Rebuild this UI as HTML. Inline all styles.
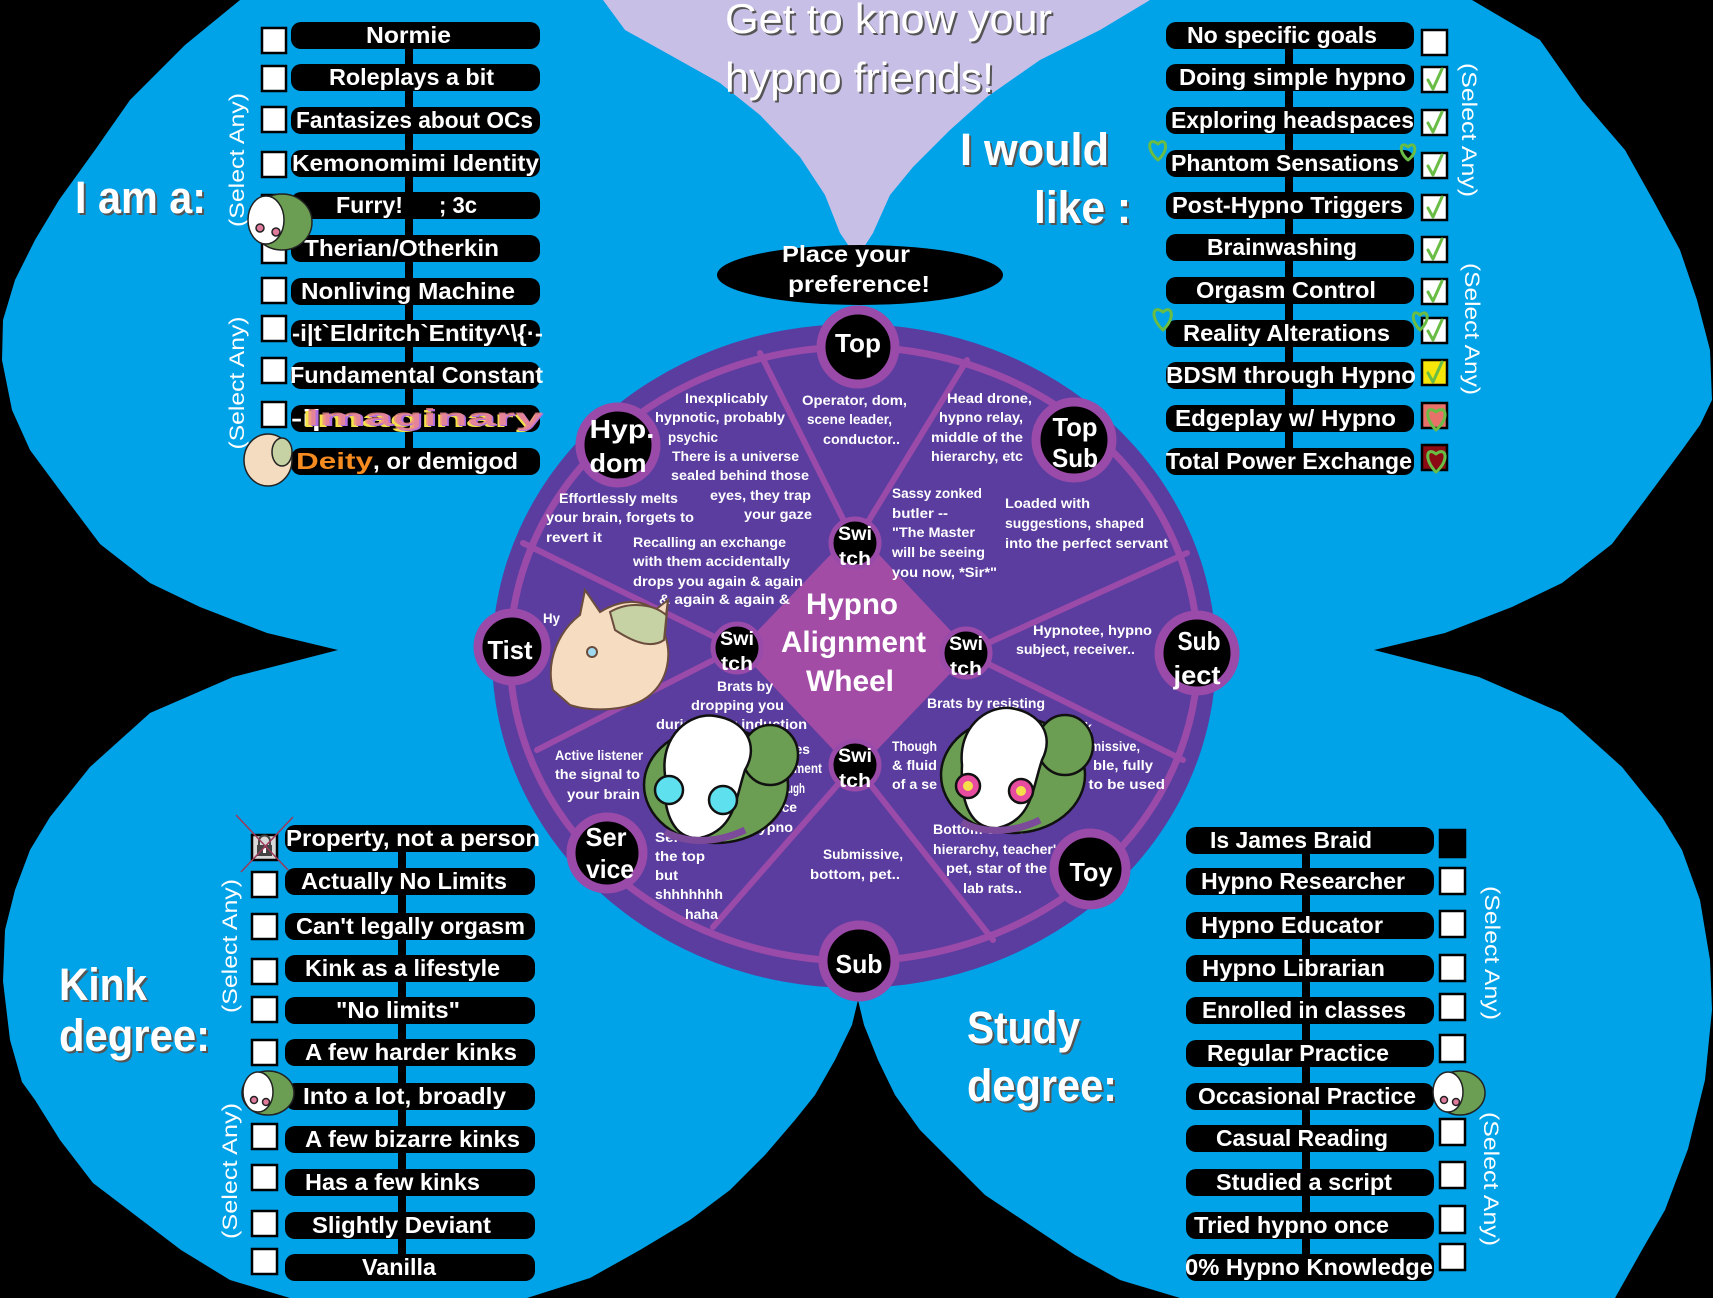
<!DOCTYPE html>
<html><head><meta charset="utf-8"><style>
html,body{margin:0;padding:0;background:#000;}
svg{display:block}
text{font-family:"Liberation Sans",Arial,sans-serif;}
.li{font-size:23px;font-weight:bold;fill:#fff;}
.wt{font-size:14px;font-weight:bold;fill:#fff;}
.rl{font-size:26px;font-weight:bold;fill:#fff;text-anchor:middle;}
.sw{font-size:19px;font-weight:bold;fill:#fff;text-anchor:middle;}
.sa{font-size:21px;fill:#fff;}
.big{font-size:45px;font-weight:bold;}
</style></head><body>
<svg width="1713" height="1298" viewBox="0 0 1713 1298" xmlns="http://www.w3.org/2000/svg">
<rect width="1713" height="1298" fill="#000"/>
<!-- blue region -->
<polygon fill="#00a2e8" points="240,0 1472,0 1540,40 1582,100 1625,150 1653,200 1680,250 1697,300 1710,350 1712,400 1700,425 1682,450 1645,500 1612,544 1562,583 1512,607 1445,633 1374,650 1479,677 1562,713 1622,767 1662,817 1682,850 1700,900 1710,960 1712,1010 1705,1080 1688,1149 1665,1210 1642,1250 1615,1298 1180,1298 1120,1280 1075,1255 1030,1225 985,1195 950,1160 920,1130 895,1095 878,1060 864,1025 858,1000 852,1025 835,1060 815,1095 795,1120 765,1155 730,1190 690,1220 640,1250 590,1278 527,1298 290,1298 230,1280 181,1250 135,1215 93,1183 60,1140 35,1100 22,1082 10,1040 3,981 5,930 15,890 30,850 50,817 90,767 150,713 233,677 338,650 267,633 200,607 150,583 100,544 67,500 30,450 12,410 2,360 3,320 15,280 35,240 59,200 95,150 130,100 185,45"/>
<!-- lavender funnel -->
<polygon fill="#c8bfe7" points="603,0 625,30 670,55 720,83 760,115 800,157 825,195 840,233 857,258 873,233 890,195 913,167 950,130 987,97 1040,60 1100,30 1150,0"/>

<!-- Title -->
<g font-size="42" font-family="Liberation Sans, sans-serif">
<text x="727" y="35" fill="#555" textLength="327" lengthAdjust="spacingAndGlyphs">Get to know your</text>
<text x="725" y="33" fill="#fff" textLength="327" lengthAdjust="spacingAndGlyphs">Get to know your</text>
<text x="727" y="94" fill="#555" textLength="269" lengthAdjust="spacingAndGlyphs">hypno friends!</text>
<text x="725" y="92" fill="#fff" textLength="269" lengthAdjust="spacingAndGlyphs">hypno friends!</text>
</g>

<!-- Section titles -->
<g class="big">
<text x="77" y="215" fill="#555" textLength="131" lengthAdjust="spacingAndGlyphs" class="big">I am a:</text>
<text x="75" y="213" fill="#fff" textLength="131" lengthAdjust="spacingAndGlyphs" class="big">I am a:</text>
<text x="962" y="167" fill="#555" textLength="149" lengthAdjust="spacingAndGlyphs" class="big">I would</text>
<text x="960" y="165" fill="#fff" textLength="149" lengthAdjust="spacingAndGlyphs" class="big">I would</text>
<text x="1036" y="225" fill="#555" textLength="97" lengthAdjust="spacingAndGlyphs" class="big">like :</text>
<text x="1034" y="223" fill="#fff" textLength="97" lengthAdjust="spacingAndGlyphs" class="big">like :</text>
<text x="61" y="1002" fill="#555" textLength="88" lengthAdjust="spacingAndGlyphs" class="big">Kink</text>
<text x="59" y="1000" fill="#fff" textLength="88" lengthAdjust="spacingAndGlyphs" class="big">Kink</text>
<text x="61" y="1053" fill="#555" textLength="151" lengthAdjust="spacingAndGlyphs" class="big">degree:</text>
<text x="59" y="1051" fill="#fff" textLength="151" lengthAdjust="spacingAndGlyphs" class="big">degree:</text>
<text x="969" y="1045" fill="#555" textLength="113" lengthAdjust="spacingAndGlyphs" class="big">Study</text>
<text x="967" y="1043" fill="#fff" textLength="113" lengthAdjust="spacingAndGlyphs" class="big">Study</text>
<text x="969" y="1103" fill="#555" textLength="150" lengthAdjust="spacingAndGlyphs" class="big">degree:</text>
<text x="967" y="1101" fill="#fff" textLength="150" lengthAdjust="spacingAndGlyphs" class="big">degree:</text>
</g>

<!-- (Select Any) labels -->
<g class="sa">
<text class="sa" transform="translate(244,160) rotate(-90)" text-anchor="middle" textLength="134" lengthAdjust="spacingAndGlyphs">(Select Any)</text>
<text class="sa" transform="translate(244,383) rotate(-90)" text-anchor="middle" textLength="133" lengthAdjust="spacingAndGlyphs">(Select Any)</text>
<text class="sa" transform="translate(1462,130) rotate(90)" text-anchor="middle" textLength="134" lengthAdjust="spacingAndGlyphs">(Select Any)</text>
<text class="sa" transform="translate(1465,329) rotate(90)" text-anchor="middle" textLength="132" lengthAdjust="spacingAndGlyphs">(Select Any)</text>
<text class="sa" transform="translate(237,946) rotate(-90)" text-anchor="middle" textLength="134" lengthAdjust="spacingAndGlyphs">(Select Any)</text>
<text class="sa" transform="translate(237,1171) rotate(-90)" text-anchor="middle" textLength="136" lengthAdjust="spacingAndGlyphs">(Select Any)</text>
<text class="sa" transform="translate(1485,953) rotate(90)" text-anchor="middle" textLength="134" lengthAdjust="spacingAndGlyphs">(Select Any)</text>
<text class="sa" transform="translate(1484,1179) rotate(90)" text-anchor="middle" textLength="134" lengthAdjust="spacingAndGlyphs">(Select Any)</text>
</g>

<!-- ============ LEFT TOP LIST ============ -->
<rect x="405" y="35" width="8" height="425" fill="#000"/>
<g fill="#000">
<rect x="291" y="22" width="249" height="27" rx="10"/>
<rect x="291" y="64" width="249" height="27" rx="10"/>
<rect x="291" y="107" width="249" height="27" rx="10"/>
<rect x="291" y="150" width="249" height="27" rx="10"/>
<rect x="291" y="192" width="249" height="27" rx="10"/>
<rect x="291" y="235" width="249" height="27" rx="10"/>
<rect x="291" y="278" width="249" height="27" rx="10"/>
<rect x="291" y="320" width="249" height="27" rx="10"/>
<rect x="291" y="362" width="249" height="27" rx="10"/>
<rect x="291" y="405" width="249" height="27" rx="10"/>
<rect x="291" y="448" width="249" height="27" rx="10"/>
</g>
<g class="li">
<text class="li" x="366" y="43" textLength="85" lengthAdjust="spacingAndGlyphs">Normie</text>
<text class="li" x="329" y="85" textLength="165" lengthAdjust="spacingAndGlyphs">Roleplays a bit</text>
<text class="li" x="296" y="128" textLength="237" lengthAdjust="spacingAndGlyphs">Fantasizes about OCs</text>
<text class="li" x="292" y="171" textLength="247" lengthAdjust="spacingAndGlyphs">Kemonomimi Identity</text>
<text class="li" x="336" y="213" textLength="67" lengthAdjust="spacingAndGlyphs">Furry!</text>
<text class="li" x="439" y="213" textLength="38" lengthAdjust="spacingAndGlyphs">; 3c</text>
<text class="li" x="304" y="256" textLength="195" lengthAdjust="spacingAndGlyphs">Therian/Otherkin</text>
<text class="li" x="301" y="299" textLength="214" lengthAdjust="spacingAndGlyphs">Nonliving Machine</text>
<text class="li" x="292" y="341" textLength="251" lengthAdjust="spacingAndGlyphs">-i|t`Eldritch`Entity^\{·-</text>
<text class="li" x="290" y="383" textLength="253" lengthAdjust="spacingAndGlyphs">Fundamental Constant</text>
<text class="li" x="291" y="426" textLength="30" lengthAdjust="spacingAndGlyphs">-i|</text>
<text x="302" y="427" font-size="23" font-weight="bold" fill="#f3e24a" textLength="240" lengthAdjust="spacingAndGlyphs">Imaginary</text>
<text x="308" y="426" font-size="23" font-weight="bold" fill="#b26fe0" textLength="236" lengthAdjust="spacingAndGlyphs">Imaginary</text>
<text x="305" y="425" font-size="23" font-weight="bold" fill="#f08a8a" opacity="0.8" textLength="238" lengthAdjust="spacingAndGlyphs">Imaginary</text>
<text x="296" y="469" font-size="23" font-weight="bold" fill="#f68b1f" textLength="77" lengthAdjust="spacingAndGlyphs">Deity</text>
<text class="li" x="373" y="469" textLength="145" lengthAdjust="spacingAndGlyphs">, or demigod</text>
</g>
<g fill="#fff" stroke="#000" stroke-width="2.5">
<rect x="262" y="28" width="24" height="25"/>
<rect x="262" y="66" width="24" height="25"/>
<rect x="262" y="107" width="24" height="25"/>
<rect x="262" y="152" width="24" height="25"/>
<rect x="262" y="195" width="24" height="25"/>
<rect x="262" y="238" width="24" height="25"/>
<rect x="262" y="278" width="24" height="25"/>
<rect x="262" y="316" width="24" height="25"/>
<rect x="262" y="358" width="24" height="25"/>
<rect x="262" y="402" width="24" height="25"/>
</g>

<!-- ============ RIGHT TOP LIST ============ -->
<rect x="1285" y="35" width="8" height="425" fill="#000"/>
<g fill="#000">
<rect x="1166" y="22" width="248" height="27" rx="10"/>
<rect x="1166" y="64" width="248" height="27" rx="10"/>
<rect x="1166" y="107" width="248" height="27" rx="10"/>
<rect x="1166" y="150" width="248" height="27" rx="10"/>
<rect x="1166" y="192" width="248" height="27" rx="10"/>
<rect x="1166" y="234" width="248" height="27" rx="10"/>
<rect x="1166" y="277" width="248" height="27" rx="10"/>
<rect x="1166" y="320" width="248" height="27" rx="10"/>
<rect x="1166" y="362" width="248" height="27" rx="10"/>
<rect x="1166" y="405" width="248" height="27" rx="10"/>
<rect x="1166" y="448" width="248" height="27" rx="10"/>
</g>
<g>
<text class="li" x="1187" y="43" textLength="190" lengthAdjust="spacingAndGlyphs">No specific goals</text>
<text class="li" x="1179" y="85" textLength="227" lengthAdjust="spacingAndGlyphs">Doing simple hypno</text>
<text class="li" x="1171" y="128" textLength="243" lengthAdjust="spacingAndGlyphs">Exploring headspaces</text>
<text class="li" x="1171" y="171" textLength="228" lengthAdjust="spacingAndGlyphs">Phantom Sensations</text>
<text class="li" x="1172" y="213" textLength="231" lengthAdjust="spacingAndGlyphs">Post-Hypno Triggers</text>
<text class="li" x="1207" y="255" textLength="150" lengthAdjust="spacingAndGlyphs">Brainwashing</text>
<text class="li" x="1196" y="298" textLength="180" lengthAdjust="spacingAndGlyphs">Orgasm Control</text>
<text class="li" x="1183" y="341" textLength="207" lengthAdjust="spacingAndGlyphs">Reality Alterations</text>
<text class="li" x="1166" y="383" textLength="250" lengthAdjust="spacingAndGlyphs">BDSM through Hypno</text>
<text class="li" x="1175" y="426" textLength="221" lengthAdjust="spacingAndGlyphs">Edgeplay w/ Hypno</text>
<text class="li" x="1166" y="469" textLength="246" lengthAdjust="spacingAndGlyphs">Total Power Exchange</text>
</g>
<g stroke="#000" stroke-width="2.5">
<rect x="1422" y="30" width="25" height="25" fill="#fff"/>
<rect x="1422" y="67" width="25" height="25" fill="#fff"/>
<rect x="1422" y="110" width="25" height="25" fill="#fff"/>
<rect x="1422" y="153" width="25" height="25" fill="#fff"/>
<rect x="1422" y="195" width="25" height="25" fill="#fff"/>
<rect x="1422" y="237" width="25" height="25" fill="#fff"/>
<rect x="1422" y="279" width="25" height="25" fill="#fff"/>
<rect x="1422" y="318" width="25" height="25" fill="#fff"/>
<rect x="1422" y="360" width="25" height="25" fill="#f7e60a"/>
<rect x="1422" y="403" width="25" height="25" fill="#e8716a"/>
<rect x="1422" y="445" width="25" height="25" fill="#8b0a14"/>
</g>
<g fill="none" stroke="#69bd45" stroke-width="3" stroke-linecap="round" stroke-linejoin="round">
<path d="M1428,80 L1433,89 L1442,69"/>
<path d="M1428,123 L1433,132 L1442,112"/>
<path d="M1428,166 L1433,175 L1442,155"/>
<path d="M1428,208 L1433,217 L1442,197"/>
<path d="M1428,250 L1433,259 L1442,239"/>
<path d="M1428,292 L1433,301 L1442,281"/>
<path d="M1428,331 L1433,340 L1442,320"/>
<path d="M1428,373 L1433,382 L1442,362"/>
<path d="M1158,160 C1146,150 1148,136 1158,144 C1166,136 1170,150 1158,160 Z"/>
<path d="M1408,160 C1398,152 1400,140 1408,147 C1415,140 1419,152 1408,160 Z"/>
<path d="M1163,330 C1150,318 1152,304 1163,312 C1172,304 1176,318 1163,330 Z"/>
<path d="M1420,330 C1410,320 1412,308 1420,315 C1428,308 1431,320 1420,330 Z"/>
<path d="M1436,430 C1424,418 1426,404 1436,412 C1446,404 1450,418 1436,430 Z"/>
<path d="M1436,472 C1424,460 1426,446 1436,454 C1446,446 1450,460 1436,472 Z"/>
</g>

<!-- ============ BOTTOM LEFT LIST ============ -->
<rect x="398" y="838" width="8" height="430" fill="#000"/>
<g fill="#000">
<rect x="285" y="825" width="250" height="27" rx="10"/>
<rect x="285" y="868" width="250" height="27" rx="10"/>
<rect x="285" y="913" width="250" height="27" rx="10"/>
<rect x="285" y="955" width="250" height="27" rx="10"/>
<rect x="285" y="997" width="250" height="27" rx="10"/>
<rect x="285" y="1039" width="250" height="27" rx="10"/>
<rect x="285" y="1083" width="250" height="27" rx="10"/>
<rect x="285" y="1126" width="250" height="27" rx="10"/>
<rect x="285" y="1169" width="250" height="27" rx="10"/>
<rect x="285" y="1212" width="250" height="27" rx="10"/>
<rect x="285" y="1254" width="250" height="27" rx="10"/>
</g>
<g>
<text class="li" x="286" y="846" textLength="254" lengthAdjust="spacingAndGlyphs">Property, not a person</text>
<text class="li" x="301" y="889" textLength="206" lengthAdjust="spacingAndGlyphs">Actually No Limits</text>
<text class="li" x="296" y="934" textLength="229" lengthAdjust="spacingAndGlyphs">Can't legally orgasm</text>
<text class="li" x="305" y="976" textLength="195" lengthAdjust="spacingAndGlyphs">Kink as a lifestyle</text>
<text class="li" x="336" y="1018" textLength="124" lengthAdjust="spacingAndGlyphs">"No limits"</text>
<text class="li" x="305" y="1060" textLength="212" lengthAdjust="spacingAndGlyphs">A few harder kinks</text>
<text class="li" x="303" y="1104" textLength="203" lengthAdjust="spacingAndGlyphs">Into a lot, broadly</text>
<text class="li" x="305" y="1147" textLength="215" lengthAdjust="spacingAndGlyphs">A few bizarre kinks</text>
<text class="li" x="305" y="1190" textLength="175" lengthAdjust="spacingAndGlyphs">Has a few kinks</text>
<text class="li" x="312" y="1233" textLength="179" lengthAdjust="spacingAndGlyphs">Slightly Deviant</text>
<text class="li" x="362" y="1275" textLength="74" lengthAdjust="spacingAndGlyphs">Vanilla</text>
</g>
<g fill="#fff" stroke="#000" stroke-width="2.5">
<rect x="252" y="835" width="25" height="25" fill="#d8d8d8"/>
<rect x="252" y="872" width="25" height="25"/>
<rect x="252" y="914" width="25" height="25"/>
<rect x="252" y="959" width="25" height="25"/>
<rect x="252" y="997" width="25" height="25"/>
<rect x="252" y="1040" width="25" height="25"/>
<rect x="252" y="1124" width="25" height="25"/>
<rect x="252" y="1165" width="25" height="25"/>
<rect x="252" y="1211" width="25" height="25"/>
<rect x="252" y="1249" width="25" height="25"/>
</g>
<!-- lock -->
<rect x="257" y="845" width="15" height="11" fill="#444"/>
<path d="M259,845 v-4 a5,5 0 0 1 11,0 v4" fill="none" stroke="#444" stroke-width="2"/>
<rect x="263" y="848" width="3" height="5" fill="#fff"/>
<g stroke="#9c3a5a" stroke-width="1.5">
<line x1="236" y1="815" x2="288" y2="870"/>
<line x1="293" y1="817" x2="241" y2="872"/>
</g>

<!-- ============ BOTTOM RIGHT LIST ============ -->
<rect x="1302" y="840" width="8" height="428" fill="#000"/>
<g fill="#000">
<rect x="1186" y="827" width="248" height="27" rx="10"/>
<rect x="1186" y="868" width="248" height="27" rx="10"/>
<rect x="1186" y="912" width="248" height="27" rx="10"/>
<rect x="1186" y="955" width="248" height="27" rx="10"/>
<rect x="1186" y="997" width="248" height="27" rx="10"/>
<rect x="1186" y="1040" width="248" height="27" rx="10"/>
<rect x="1186" y="1083" width="248" height="27" rx="10"/>
<rect x="1186" y="1125" width="248" height="27" rx="10"/>
<rect x="1186" y="1169" width="248" height="27" rx="10"/>
<rect x="1186" y="1212" width="248" height="27" rx="10"/>
<rect x="1186" y="1254" width="248" height="27" rx="10"/>
</g>
<g>
<text class="li" x="1210" y="848" textLength="162" lengthAdjust="spacingAndGlyphs">Is James Braid</text>
<text class="li" x="1201" y="889" textLength="204" lengthAdjust="spacingAndGlyphs">Hypno Researcher</text>
<text class="li" x="1201" y="933" textLength="182" lengthAdjust="spacingAndGlyphs">Hypno Educator</text>
<text class="li" x="1202" y="976" textLength="183" lengthAdjust="spacingAndGlyphs">Hypno Librarian</text>
<text class="li" x="1202" y="1018" textLength="204" lengthAdjust="spacingAndGlyphs">Enrolled in classes</text>
<text class="li" x="1207" y="1061" textLength="182" lengthAdjust="spacingAndGlyphs">Regular Practice</text>
<text class="li" x="1198" y="1104" textLength="218" lengthAdjust="spacingAndGlyphs">Occasional Practice</text>
<text class="li" x="1216" y="1146" textLength="172" lengthAdjust="spacingAndGlyphs">Casual Reading</text>
<text class="li" x="1216" y="1190" textLength="176" lengthAdjust="spacingAndGlyphs">Studied a script</text>
<text class="li" x="1194" y="1233" textLength="195" lengthAdjust="spacingAndGlyphs">Tried hypno once</text>
<text class="li" x="1185" y="1275" textLength="248" lengthAdjust="spacingAndGlyphs">0% Hypno Knowledge</text>
</g>
<g fill="#fff" stroke="#000" stroke-width="2.5">
<rect x="1440" y="830" width="25" height="27" fill="#000"/>
<rect x="1440" y="868" width="25" height="26"/>
<rect x="1440" y="911" width="25" height="26"/>
<rect x="1440" y="955" width="25" height="26"/>
<rect x="1440" y="994" width="25" height="26"/>
<rect x="1440" y="1035" width="25" height="27"/>
<rect x="1440" y="1119" width="25" height="26"/>
<rect x="1440" y="1162" width="25" height="26"/>
<rect x="1440" y="1206" width="25" height="27"/>
<rect x="1440" y="1244" width="25" height="26"/>
</g>

<!-- ============ PLACE YOUR PREFERENCE ============ -->
<ellipse cx="860" cy="275" rx="143" ry="30" fill="#000"/>
<text x="782" y="262" font-size="23" font-weight="bold" fill="#fff" textLength="128" lengthAdjust="spacingAndGlyphs">Place your</text>
<text x="788" y="292" font-size="23" font-weight="bold" fill="#fff" textLength="142" lengthAdjust="spacingAndGlyphs">preference!</text>

<!-- ============ WHEEL ============ -->
<ellipse cx="854" cy="656" rx="362" ry="332" fill="#5a3d9f"/>
<ellipse cx="854" cy="654" rx="344" ry="307" fill="none" stroke="#9a4aa8" stroke-width="7"/>
<g stroke="#9a4aa8" stroke-width="6" stroke-linecap="round">
<line x1="855" y1="543" x2="760" y2="353"/>
<line x1="855" y1="543" x2="967" y2="360"/>
<line x1="966" y1="653" x2="1187" y2="553"/>
<line x1="966" y1="653" x2="1183" y2="760"/>
<line x1="855" y1="765" x2="993" y2="940"/>
<line x1="855" y1="765" x2="713" y2="927"/>
<line x1="737" y1="648" x2="537" y2="750"/>
<line x1="737" y1="648" x2="523" y2="543"/>
</g>
<polygon points="855,532 968,652 855,770 742,650" fill="#a24ca6" stroke="#a24ca6" stroke-width="4" stroke-linejoin="round"/>
<text x="806" y="614" font-size="30" font-weight="bold" fill="#fff" textLength="92" lengthAdjust="spacingAndGlyphs">Hypno</text>
<text x="781" y="652" font-size="30" font-weight="bold" fill="#fff" textLength="145" lengthAdjust="spacingAndGlyphs">Alignment</text>
<text x="806" y="691" font-size="30" font-weight="bold" fill="#fff" textLength="88" lengthAdjust="spacingAndGlyphs">Wheel</text>

<!-- wheel texts -->
<g>
<text class="wt" x="685" y="403" textLength="83" lengthAdjust="spacingAndGlyphs">Inexplicably</text>
<text class="wt" x="655" y="422" textLength="130" lengthAdjust="spacingAndGlyphs">hypnotic, probably</text>
<text class="wt" x="668" y="442" textLength="50" lengthAdjust="spacingAndGlyphs">psychic</text>
<text class="wt" x="672" y="461" textLength="127" lengthAdjust="spacingAndGlyphs">There is a universe</text>
<text class="wt" x="671" y="480" textLength="138" lengthAdjust="spacingAndGlyphs">sealed behind those</text>
<text class="wt" x="710" y="500" textLength="101" lengthAdjust="spacingAndGlyphs">eyes, they trap</text>
<text class="wt" x="744" y="519" textLength="68" lengthAdjust="spacingAndGlyphs">your gaze</text>
<text class="wt" x="559" y="503" textLength="119" lengthAdjust="spacingAndGlyphs">Effortlessly melts</text>
<text class="wt" x="546" y="522" textLength="148" lengthAdjust="spacingAndGlyphs">your brain, forgets to</text>
<text class="wt" x="546" y="542" textLength="56" lengthAdjust="spacingAndGlyphs">revert it</text>
<text class="wt" x="633" y="547" textLength="153" lengthAdjust="spacingAndGlyphs">Recalling an exchange</text>
<text class="wt" x="633" y="566" textLength="157" lengthAdjust="spacingAndGlyphs">with them accidentally</text>
<text class="wt" x="633" y="586" textLength="170" lengthAdjust="spacingAndGlyphs">drops you again &amp; again</text>
<text class="wt" x="659" y="604" textLength="131" lengthAdjust="spacingAndGlyphs">&amp; again &amp; again &amp;</text>

<text class="wt" x="802" y="405" textLength="105" lengthAdjust="spacingAndGlyphs">Operator, dom,</text>
<text class="wt" x="807" y="424" textLength="85" lengthAdjust="spacingAndGlyphs">scene leader,</text>
<text class="wt" x="823" y="444" textLength="77" lengthAdjust="spacingAndGlyphs">conductor..</text>

<text class="wt" x="947" y="403" textLength="85" lengthAdjust="spacingAndGlyphs">Head drone,</text>
<text class="wt" x="939" y="422" textLength="84" lengthAdjust="spacingAndGlyphs">hypno relay,</text>
<text class="wt" x="931" y="442" textLength="92" lengthAdjust="spacingAndGlyphs">middle of the</text>
<text class="wt" x="931" y="461" textLength="92" lengthAdjust="spacingAndGlyphs">hierarchy, etc</text>

<text class="wt" x="892" y="498" textLength="90" lengthAdjust="spacingAndGlyphs">Sassy zonked</text>
<text class="wt" x="892" y="518" textLength="56" lengthAdjust="spacingAndGlyphs">butler --</text>
<text class="wt" x="892" y="537" textLength="83" lengthAdjust="spacingAndGlyphs">"The Master</text>
<text class="wt" x="892" y="557" textLength="93" lengthAdjust="spacingAndGlyphs">will be seeing</text>
<text class="wt" x="892" y="577" textLength="105" lengthAdjust="spacingAndGlyphs">you now, *Sir*"</text>

<text class="wt" x="1005" y="508" textLength="85" lengthAdjust="spacingAndGlyphs">Loaded with</text>
<text class="wt" x="1005" y="528" textLength="139" lengthAdjust="spacingAndGlyphs">suggestions, shaped</text>
<text class="wt" x="1005" y="548" textLength="163" lengthAdjust="spacingAndGlyphs">into the perfect servant</text>

<text class="wt" x="1033" y="635" textLength="119" lengthAdjust="spacingAndGlyphs">Hypnotee, hypno</text>
<text class="wt" x="1016" y="654" textLength="119" lengthAdjust="spacingAndGlyphs">subject, receiver..</text>

<text class="wt" x="927" y="708" textLength="118" lengthAdjust="spacingAndGlyphs">Brats by resisting</text>
<text class="wt" x="1040" y="732" textLength="52" lengthAdjust="spacingAndGlyphs">vestock</text>
<text class="wt" x="1090" y="751" textLength="50" lengthAdjust="spacingAndGlyphs">missive,</text>
<text class="wt" x="1093" y="770" textLength="60" lengthAdjust="spacingAndGlyphs">ble, fully</text>
<text class="wt" x="1080" y="789" textLength="85" lengthAdjust="spacingAndGlyphs">, to be used</text>
<text class="wt" x="892" y="751" textLength="45" lengthAdjust="spacingAndGlyphs">Though</text>
<text class="wt" x="892" y="770" textLength="45" lengthAdjust="spacingAndGlyphs">&amp; fluid</text>
<text class="wt" x="892" y="789" textLength="45" lengthAdjust="spacingAndGlyphs">of a se</text>

<text class="wt" x="933" y="834" textLength="92" lengthAdjust="spacingAndGlyphs">Bottom of the</text>
<text class="wt" x="933" y="854" textLength="131" lengthAdjust="spacingAndGlyphs">hierarchy, teacher's</text>
<text class="wt" x="946" y="873" textLength="101" lengthAdjust="spacingAndGlyphs">pet, star of the</text>
<text class="wt" x="963" y="893" textLength="59" lengthAdjust="spacingAndGlyphs">lab rats..</text>

<text class="wt" x="823" y="859" textLength="80" lengthAdjust="spacingAndGlyphs">Submissive,</text>
<text class="wt" x="810" y="879" textLength="90" lengthAdjust="spacingAndGlyphs">bottom, pet..</text>

<text class="wt" x="543" y="623" textLength="17" lengthAdjust="spacingAndGlyphs">Hy</text>
<text class="wt" x="717" y="691" textLength="56" lengthAdjust="spacingAndGlyphs">Brats by</text>
<text class="wt" x="691" y="710" textLength="93" lengthAdjust="spacingAndGlyphs">dropping you</text>
<text class="wt" x="656" y="729" textLength="151" lengthAdjust="spacingAndGlyphs">during your induction</text>
<text class="wt" x="767" y="754" textLength="43" lengthAdjust="spacingAndGlyphs">hieves</text>
<text class="wt" x="780" y="773" textLength="42" lengthAdjust="spacingAndGlyphs">nement</text>
<text class="wt" x="787" y="793" textLength="18" lengthAdjust="spacingAndGlyphs">ugh</text>
<text class="wt" x="770" y="812" textLength="27" lengthAdjust="spacingAndGlyphs">vice</text>
<text class="wt" x="750" y="832" textLength="43" lengthAdjust="spacingAndGlyphs">hypno</text>
<text class="wt" x="555" y="760" textLength="88" lengthAdjust="spacingAndGlyphs">Active listener</text>
<text class="wt" x="555" y="779" textLength="85" lengthAdjust="spacingAndGlyphs">the signal to</text>
<text class="wt" x="567" y="799" textLength="73" lengthAdjust="spacingAndGlyphs">your brain</text>
<text class="wt" x="655" y="842" textLength="50" lengthAdjust="spacingAndGlyphs">Serves</text>
<text class="wt" x="655" y="861" textLength="50" lengthAdjust="spacingAndGlyphs">the top</text>
<text class="wt" x="655" y="880" textLength="23" lengthAdjust="spacingAndGlyphs">but</text>
<text class="wt" x="655" y="899" textLength="68" lengthAdjust="spacingAndGlyphs">shhhhhhh</text>
<text class="wt" x="685" y="919" textLength="33" lengthAdjust="spacingAndGlyphs">haha</text>
</g>

<!-- Switch circles -->
<g fill="#000" stroke="#9a4aa8" stroke-width="5">
<circle cx="855" cy="543" r="24"/>
<circle cx="966" cy="653" r="24"/>
<circle cx="855" cy="765" r="24"/>
<circle cx="737" cy="648" r="24"/>
</g>
<text class="sw" x="855" y="540" textLength="34" lengthAdjust="spacingAndGlyphs">Swi</text>
<text class="sw" x="855" y="565" textLength="32" lengthAdjust="spacingAndGlyphs">tch</text>
<text class="sw" x="966" y="650" textLength="34" lengthAdjust="spacingAndGlyphs">Swi</text>
<text class="sw" x="966" y="675" textLength="32" lengthAdjust="spacingAndGlyphs">tch</text>
<text class="sw" x="855" y="762" textLength="34" lengthAdjust="spacingAndGlyphs">Swi</text>
<text class="sw" x="855" y="787" textLength="32" lengthAdjust="spacingAndGlyphs">tch</text>
<text class="sw" x="737" y="645" textLength="34" lengthAdjust="spacingAndGlyphs">Swi</text>
<text class="sw" x="737" y="670" textLength="32" lengthAdjust="spacingAndGlyphs">tch</text>

<!-- Role circles -->
<g fill="#000" stroke="#9a4aa8" stroke-width="9">
<circle cx="858" cy="347" r="37"/>
<circle cx="1074" cy="440" r="38"/>
<circle cx="1197" cy="653" r="38"/>
<circle cx="1090" cy="869" r="36"/>
<circle cx="859" cy="961" r="36"/>
<circle cx="607" cy="853" r="36"/>
<circle cx="512" cy="647" r="34"/>
<circle cx="618" cy="445" r="38"/>
</g>
<g>
<text class="rl" x="858" y="352" textLength="46" lengthAdjust="spacingAndGlyphs">Top</text>
<text class="rl" x="1075" y="436" textLength="45" lengthAdjust="spacingAndGlyphs">Top</text>
<text class="rl" x="1075" y="467" textLength="46" lengthAdjust="spacingAndGlyphs">Sub</text>
<text class="rl" x="1199" y="650" textLength="43" lengthAdjust="spacingAndGlyphs">Sub</text>
<text class="rl" x="1197" y="684" textLength="47" lengthAdjust="spacingAndGlyphs">ject</text>
<text class="rl" x="1091" y="881" textLength="43" lengthAdjust="spacingAndGlyphs">Toy</text>
<text class="rl" x="859" y="973" textLength="47" lengthAdjust="spacingAndGlyphs">Sub</text>
<text class="rl" x="606" y="846" textLength="41" lengthAdjust="spacingAndGlyphs">Ser</text>
<text class="rl" x="610" y="878" textLength="48" lengthAdjust="spacingAndGlyphs">vice</text>
<text class="rl" x="510" y="659" textLength="45" lengthAdjust="spacingAndGlyphs">Tist</text>
<text class="rl" x="622" y="438" textLength="65" lengthAdjust="spacingAndGlyphs">Hyp.</text>
<text class="rl" x="618" y="472" textLength="57" lengthAdjust="spacingAndGlyphs">dom</text>
</g>

<!-- ============ CHARACTERS (simplified) ============ -->
<!-- Tist fox -->
<g stroke="#6b4d3e" stroke-width="2">
<path d="M553,690 C545,660 560,630 580,615 L585,590 L600,612 C620,600 640,598 655,610 L668,600 L665,635 C672,655 668,680 650,695 C630,712 590,712 570,705 Z" fill="#f6dcc1"/>
<path d="M610,612 C630,600 655,605 666,615 L668,600 L664,640 C650,650 630,640 615,630 Z" fill="#c6d2a3"/>
<circle cx="592" cy="652" r="5" fill="#9fd9f0"/>
</g>
<!-- Cat 1 -->
<g stroke="#111" stroke-width="2.5">
<ellipse cx="716" cy="785" rx="72" ry="58" fill="#6b9e52"/>
<ellipse cx="770" cy="755" rx="28" ry="30" fill="#6b9e52"/>
<path d="M665,775 C660,735 690,712 715,716 C745,720 760,745 745,770 C735,800 735,830 700,838 C675,840 662,815 665,775 Z" fill="#fff"/>
<circle cx="669" cy="790" r="14" fill="#5fe0ee"/>
<circle cx="723" cy="800" r="14" fill="#5fe0ee"/>
<path d="M665,832 C690,845 720,842 745,830" fill="none" stroke="#7b4a9a" stroke-width="7"/>
</g>
<!-- Cat 2 -->
<g stroke="#111" stroke-width="2.5">
<ellipse cx="1013" cy="775" rx="72" ry="58" fill="#6b9e52"/>
<ellipse cx="1065" cy="745" rx="28" ry="30" fill="#6b9e52"/>
<path d="M962,765 C958,728 985,706 1010,708 C1040,712 1055,735 1042,760 C1032,790 1032,820 998,828 C972,830 960,805 962,765 Z" fill="#fff"/>
<circle cx="968" cy="786" r="12" fill="#e84ca0"/>
<circle cx="968" cy="786" r="5" fill="#f5e04a" stroke="none"/>
<circle cx="1021" cy="791" r="12" fill="#e84ca0"/>
<circle cx="1021" cy="791" r="5" fill="#f5e04a" stroke="none"/>
<path d="M962,822 C985,835 1015,832 1040,820" fill="none" stroke="#7b4a9a" stroke-width="7"/>
</g>
<!-- small sprites -->
<g stroke="#222" stroke-width="1.5">
<ellipse cx="282" cy="222" rx="30" ry="28" fill="#6b9e52"/>
<ellipse cx="266" cy="220" rx="18" ry="24" fill="#fff"/>
<circle cx="260" cy="228" r="4" fill="#e07a9a"/>
<circle cx="276" cy="232" r="4" fill="#e07a9a"/>

<ellipse cx="268" cy="460" rx="24" ry="26" fill="#f3dcc0"/>
<ellipse cx="282" cy="452" rx="10" ry="14" fill="#c6d2a3"/>

<ellipse cx="268" cy="1093" rx="26" ry="22" fill="#6b9e52"/>
<ellipse cx="258" cy="1092" rx="15" ry="20" fill="#fff"/>
<circle cx="254" cy="1100" r="3.5" fill="#e07a9a"/>
<circle cx="266" cy="1102" r="3.5" fill="#e07a9a"/>

<ellipse cx="1460" cy="1093" rx="25" ry="22" fill="#6b9e52"/>
<ellipse cx="1448" cy="1092" rx="15" ry="20" fill="#fff"/>
<circle cx="1444" cy="1100" r="3.5" fill="#e07a9a"/>
<circle cx="1456" cy="1102" r="3.5" fill="#e07a9a"/>
</g>
</svg>
</body></html>
